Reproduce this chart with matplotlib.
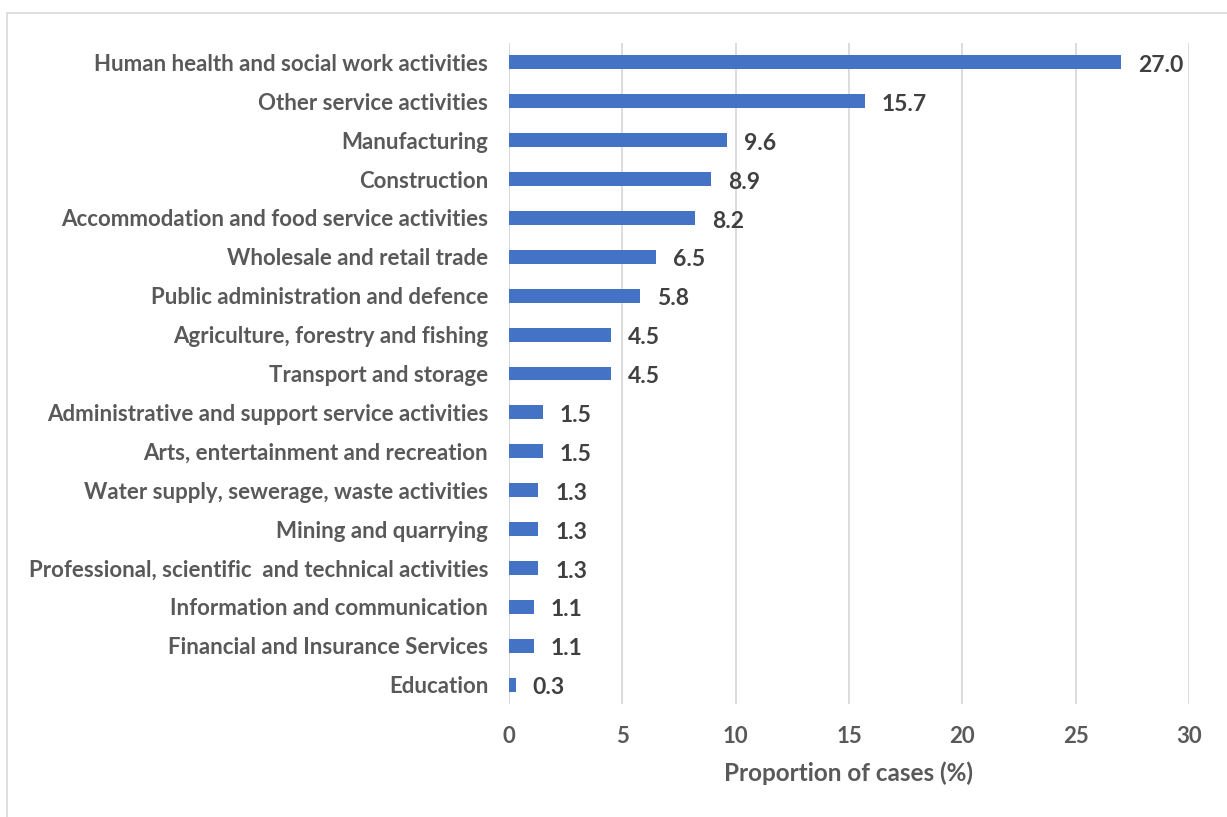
import matplotlib
matplotlib.use("Agg")
import matplotlib.pyplot as plt
from matplotlib.patches import Rectangle

categories = [
    "Human health and social work activities",
    "Other service activities",
    "Manufacturing",
    "Construction",
    "Accommodation and food service activities",
    "Wholesale and retail trade",
    "Public administration and defence",
    "Agriculture, forestry and fishing",
    "Transport and storage",
    "Administrative and support service activities",
    "Arts, entertainment and recreation",
    "Water supply, sewerage, waste activities",
    "Mining and quarrying",
    "Professional, scientific  and technical activities",
    "Information and communication",
    "Financial and Insurance Services",
    "Education",
]
values = [27.0, 15.7, 9.6, 8.9, 8.2, 6.5, 5.8, 4.5, 4.5, 1.5, 1.5, 1.3, 1.3, 1.3, 1.1, 1.1, 0.3]
xticks = [0, 5, 10, 15, 20, 25, 30]

plt.rcParams["font.family"] = ["Lato", "DejaVu Sans"]
plt.rcParams["font.weight"] = "bold"

label_color = "#595959"
value_color = "#404040"
bar_color = "#4472C4"
grid_color = "#D9D9D9"

fig = plt.figure(figsize=(12.27, 8.17), dpi=100)
W, H = 1227, 817
# outer chart border
fig.patches.append(Rectangle((7 / W, -0.1), 1.2, 1 - 13 / H + 0.1,
                             transform=fig.transFigure, fill=False,
                             edgecolor="#D9D9D9", linewidth=1.2))

ax = fig.add_axes([509 / W, 1 - 704 / H, (1189 - 509) / W, (704 - 43) / H])
ypos = list(range(len(categories)))
ax.barh(ypos, values, height=0.36, color=bar_color, zorder=3)
ax.set_ylim(len(categories) - 0.5, -0.5)
ax.set_xlim(0, 30)
ax.set_xticks(xticks)
ax.set_xticklabels([str(t) for t in xticks])
ax.set_yticks(ypos)
ax.set_yticklabels(categories)
ax.tick_params(axis="both", length=0, labelsize=16, colors=label_color)
ax.tick_params(axis="y", pad=15)
ax.tick_params(axis="x", pad=16)
ax.grid(axis="x", color=grid_color, linewidth=1.3, zorder=0)
for s in ax.spines.values():
    s.set_visible(False)
ax.axvline(0, color=grid_color, linewidth=1.3, zorder=1)

for y, v in zip(ypos, values):
    ax.text(v + 0.75, y + 0.08, f"{v:.1f}", va="center", ha="left",
            fontsize=16.5, fontweight="bold", color=value_color)

ax.set_xlabel("Proportion of cases (%)", fontsize=17.5, fontweight="bold",
              color=label_color, labelpad=10)

fig.savefig("out.png", dpi=100)
